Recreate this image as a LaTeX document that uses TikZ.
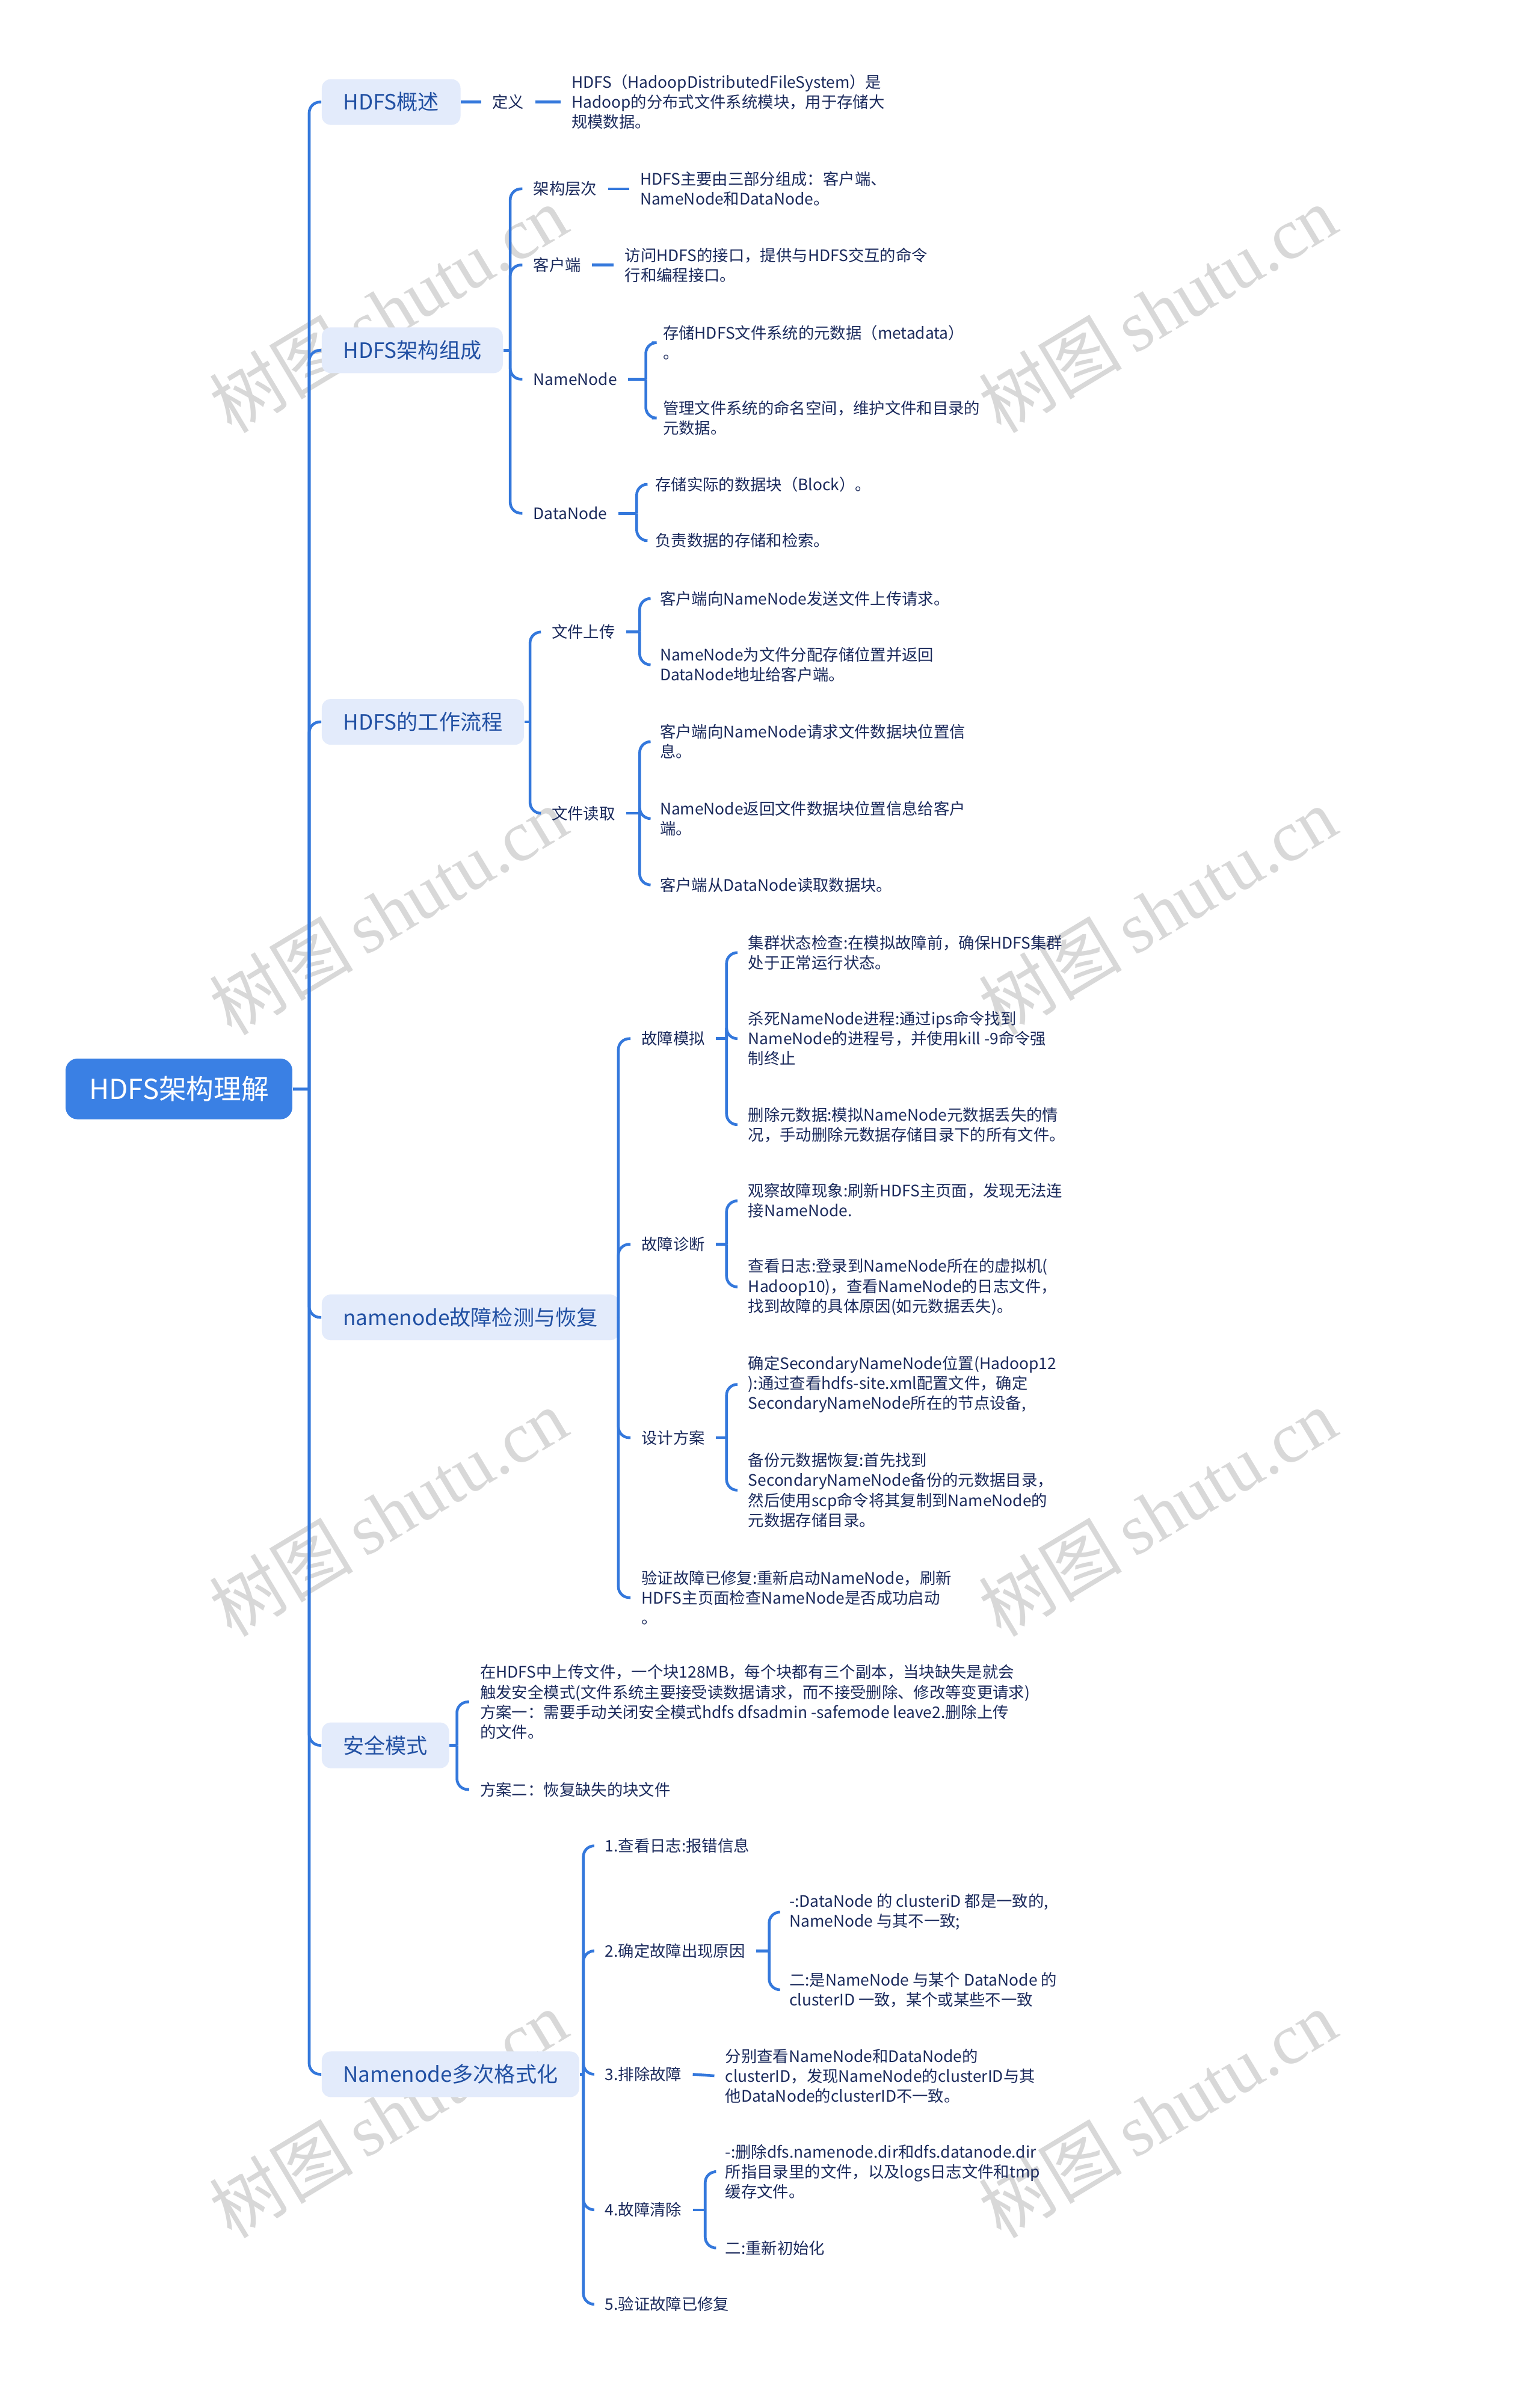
\documentclass[tikz,border=0pt]{standalone}
\usepackage{fontspec}
\setmainfont{Noto Sans CJK SC}
\newfontfamily\wmfont{Liberation Serif}
\usepackage{tikz}
\usetikzlibrary{positioning,calc}
\definecolor{LinkBlue}{HTML}{3478DC}
\definecolor{RootBlue}{HTML}{3A80E4}
\definecolor{TopicFill}{HTML}{E3EBFB}
\definecolor{TopicText}{HTML}{2150A3}
\definecolor{Ink}{HTML}{1B2A5C}
\definecolor{Mark}{HTML}{D8D8D8}

\begin{document}
\begin{tikzpicture}[x=0.2532mm, y=-0.2532mm,
    root/.style={fill=RootBlue, rounded corners=2mm, text=white,
                 font=\fontsize{13}{15}\selectfont, minimum width=37.7mm, minimum height=10.1mm},
    topic/.style={anchor=west, fill=TopicFill, rounded corners=1.5mm, text=TopicText,
                  font=\fontsize{10}{12}\selectfont, inner xsep=3.55mm, minimum height=7.6mm},
    sub/.style={anchor=west, text=Ink, font=\fontsize{7.5}{9.4}\selectfont,
                inner xsep=1.77mm, inner ysep=0pt},
    leaf/.style={sub, align=left},
    link/.style={draw=LinkBlue, line width=1.3pt},
    elbow/.style={link, rounded corners=1.8mm},
    wmark/.style={text=Mark, rotate=31, font=\fontsize{34}{36}\selectfont},
  ]
    \fill[white] (0,0) rectangle (1011,1568);
    \useasboundingbox (0,0) rectangle (1011,1568);

    % watermark
    \node[wmark] (wm1) at (255,203)  {树图\,{\wmfont shutu.cn}};
    \node[wmark] (wm2) at (760,203)  {树图\,{\wmfont shutu.cn}};
    \node[wmark] (wm3) at (255,598)  {树图\,{\wmfont shutu.cn}};
    \node[wmark] (wm4) at (760,598)  {树图\,{\wmfont shutu.cn}};
    \node[wmark] (wm5) at (255,993)  {树图\,{\wmfont shutu.cn}};
    \node[wmark] (wm6) at (760,993)  {树图\,{\wmfont shutu.cn}};
    \node[wmark] (wm7) at (255,1388) {树图\,{\wmfont shutu.cn}};
    \node[wmark] (wm8) at (760,1388) {树图\,{\wmfont shutu.cn}};

    \node[root] (root) at (117.5,715) {HDFS架构理解};

    \node[topic] (t1) at (211,67)   {HDFS概述};
    \node[topic] (t2) at (211,230)  {HDFS架构组成};
    \node[topic] (t3) at (211,474)  {HDFS的工作流程};
    \node[topic] (t4) at (211,865)  {namenode故障检测与恢复};
    \node[topic] (t5) at (211,1146) {安全模式};
    \node[topic] (t6) at (211,1362) {Namenode多次格式化};

    % HDFS概述
    \node[sub] (def) at (316,67) {定义};
    \node[leaf] (defx) at (368,67) {HDFS（HadoopDistributedFileSystem）是\\Hadoop的分布式文件系统模块，用于存储大\\规模数据。};

    % HDFS架构组成
    \node[sub] (arch) at (343,124) {架构层次};
    \node[leaf] (archx) at (413,124) {HDFS主要由三部分组成：客户端、\\NameNode和DataNode。};
    \node[sub] (cli) at (343,174) {客户端};
    \node[leaf] (clix) at (403,174) {访问HDFS的接口，提供与HDFS交互的命令\\行和编程接口。};
    \node[sub] (nn) at (343,249) {NameNode};
    \node[leaf] (nn1) at (428,225) {存储HDFS文件系统的元数据（metadata）\\。};
    \node[leaf] (nn2) at (428,274.5) {管理文件系统的命名空间，维护文件和目录的\\元数据。};
    \node[sub] (dn) at (343,337) {DataNode};
    \node[leaf] (dn1) at (423,318) {存储实际的数据块（Block）。};
    \node[leaf] (dn2) at (423,355) {负责数据的存储和检索。};

    % HDFS的工作流程
    \node[sub] (up) at (355,415) {文件上传};
    \node[leaf] (up1) at (426,393) {客户端向NameNode发送文件上传请求。};
    \node[leaf] (up2) at (426,436.5) {NameNode为文件分配存储位置并返回\\DataNode地址给客户端。};
    \node[sub] (rd) at (355,534) {文件读取};
    \node[leaf] (rd1) at (426,487) {客户端向NameNode请求文件数据块位置信\\息。};
    \node[leaf] (rd2) at (426,537.5) {NameNode返回文件数据块位置信息给客户\\端。};
    \node[leaf] (rd3) at (426,581) {客户端从DataNode读取数据块。};

    % namenode故障检测与恢复
    \node[sub] (sim) at (414,682) {故障模拟};
    \node[leaf] (sim1) at (484,625.5) {集群状态检查:在模拟故障前，确保HDFS集群\\处于正常运行状态。};
    \node[leaf] (sim2) at (484,682) {杀死NameNode进程:通过ips命令找到\\NameNode的进程号，并使用kill -9命令强\\制终止};
    \node[leaf] (sim3) at (484,738.5) {删除元数据:模拟NameNode元数据丢失的情\\况，手动删除元数据存储目录下的所有文件。};
    \node[sub] (diag) at (414,817) {故障诊断};
    \node[leaf] (diag1) at (484,788.5) {观察故障现象:刷新HDFS主页面，发现无法连\\接NameNode.};
    \node[leaf] (diag2) at (484,845) {查看日志:登录到NameNode所在的虚拟机(\\Hadoop10)，查看NameNode的日志文件，\\找到故障的具体原因(如元数据丢失)。};
    \node[sub] (plan) at (414,944) {设计方案};
    \node[leaf] (plan1) at (484,909) {确定SecondaryNameNode位置(Hadoop12\\):通过查看hdfs-site.xml配置文件，确定\\SecondaryNameNode所在的节点设备,};
    \node[leaf] (plan2) at (484,978.5) {备份元数据恢复:首先找到\\SecondaryNameNode备份的元数据目录，\\然后使用scp命令将其复制到NameNode的\\元数据存储目录。};
    \node[leaf] (verify) at (414,1049) {验证故障已修复:重新启动NameNode，刷新\\HDFS主页面检查NameNode是否成功启动\\。};

    % 安全模式
    \node[leaf] (safe1) at (308,1117.5) {在HDFS中上传文件，一个块128MB，每个块都有三个副本，当块缺失是就会\\触发安全模式(文件系统主要接受读数据请求，而不接受删除、修改等变更请求)\\方案一：需要手动关闭安全模式hdfs dfsadmin -safemode leave2.删除上传\\的文件。};
    \node[leaf] (safe2) at (308,1175) {方案二：恢复缺失的块文件};

    % Namenode多次格式化
    \node[sub] (fmt1) at (390,1212) {1.查看日志:报错信息};
    \node[sub] (fmt2) at (390,1281) {2.确定故障出现原因};
    \node[leaf] (fmt21) at (511,1255.5) {-:DataNode 的 clusteriD 都是一致的,\\NameNode 与其不一致;};
    \node[leaf] (fmt22) at (511,1306.5) {二:是NameNode 与某个 DataNode 的\\clusterID 一致，某个或某些不一致};
    \node[sub] (fmt3) at (390,1362) {3.排除故障};
    \node[leaf] (fmt3x) at (469,1363) {分别查看NameNode和DataNode的\\clusterID，发现NameNode的clusterID与其\\他DataNode的clusterID不一致。};
    \node[sub] (fmt4) at (390,1451) {4.故障清除};
    \node[leaf] (fmt41) at (469,1426) {-:删除dfs.namenode.dir和dfs.datanode.dir\\所指目录里的文件，以及logs日志文件和tmp\\缓存文件。};
    \node[leaf] (fmt42) at (469,1476) {二:重新初始化};
    \node[sub] (fmt5) at (390,1513) {5.验证故障已修复};

    % trunk
    \draw[link] (root.east) -- ($(root.east -| t1.west)+(-8,0)$) coordinate (j0);
    \draw[elbow] (j0) |- (t1.west);
    \draw[elbow] (j0) |- (t2.west);
    \draw[elbow] (j0) |- (t3.west);
    \draw[elbow] (j0) |- (t4.west);
    \draw[elbow] (j0) |- (t5.west);
    \draw[elbow] (j0) |- (t6.west);

    \draw[link] (t1.east) -- (def.west);
    \draw[link] (def.east) -- (defx.west);

    \draw[link] (t2.east) -- ($(t2.east -| arch.west)+(-8,0)$) coordinate (j2);
    \draw[elbow] (j2) |- (arch.west);
    \draw[elbow] (j2) |- (cli.west);
    \draw[elbow] (j2) |- (nn.west);
    \draw[elbow] (j2) |- (dn.west);
    \draw[link] (arch.east) -- (archx.west);
    \draw[link] (cli.east) -- (clix.west);
    \draw[link] (nn.east) -- ($(nn.east -| nn1.west)+(-4,0)$) coordinate (jnn);
    \draw[elbow] (jnn) |- (nn1.west);
    \draw[elbow] (jnn) |- (nn2.west);
    \draw[link] (dn.east) -- ($(dn.east -| dn1.west)+(-5,0)$) coordinate (jdn);
    \draw[elbow] (jdn) |- (dn1.west);
    \draw[elbow] (jdn) |- (dn2.west);

    \draw[link] (t3.east) -- ($(t3.east -| up.west)+(-7,0)$) coordinate (j3);
    \draw[elbow] (j3) |- (up.west);
    \draw[elbow] (j3) |- (rd.west);
    \draw[link] (up.east) -- ($(up.east -| up1.west)+(-6,0)$) coordinate (jup);
    \draw[elbow] (jup) |- (up1.west);
    \draw[elbow] (jup) |- (up2.west);
    \draw[link] (rd.east) -- ($(rd.east -| rd1.west)+(-6,0)$) coordinate (jrd);
    \draw[elbow] (jrd) |- (rd1.west);
    \draw[elbow] (jrd) |- (rd2.west);
    \draw[elbow] (jrd) |- (rd3.west);

    \draw[link] (t4.east) -- ($(t4.east -| sim.west)+(-8,0)$) coordinate (j4);
    \draw[elbow] (j4) |- (sim.west);
    \draw[elbow] (j4) |- (diag.west);
    \draw[elbow] (j4) |- (plan.west);
    \draw[elbow] (j4) |- (verify.west);
    \draw[link] (sim.east) -- ($(sim.east -| sim1.west)+(-7,0)$) coordinate (jsim);
    \draw[elbow] (jsim) |- (sim1.west);
    \draw[elbow] (jsim) |- (sim2.west);
    \draw[elbow] (jsim) |- (sim3.west);
    \draw[link] (diag.east) -- ($(diag.east -| diag1.west)+(-7,0)$) coordinate (jdiag);
    \draw[elbow] (jdiag) |- (diag1.west);
    \draw[elbow] (jdiag) |- (diag2.west);
    \draw[link] (plan.east) -- ($(plan.east -| plan1.west)+(-7,0)$) coordinate (jplan);
    \draw[elbow] (jplan) |- (plan1.west);
    \draw[elbow] (jplan) |- (plan2.west);

    \draw[link] (t5.east) -- ($(t5.east -| safe1.west)+(-8,0)$) coordinate (j5);
    \draw[elbow] (j5) |- (safe1.west);
    \draw[elbow] (j5) |- (safe2.west);

    \draw[link] (t6.east) -- ($(t6.east -| fmt1.west)+(-7,0)$) coordinate (j6);
    \draw[elbow] (j6) |- (fmt1.west);
    \draw[elbow] (j6) |- (fmt2.west);
    \draw[elbow] (j6) |- (fmt3.west);
    \draw[elbow] (j6) |- (fmt4.west);
    \draw[elbow] (j6) |- (fmt5.west);
    \draw[link] (fmt2.east) -- ($(fmt2.east -| fmt21.west)+(-6,0)$) coordinate (jf2);
    \draw[elbow] (jf2) |- (fmt21.west);
    \draw[elbow] (jf2) |- (fmt22.west);
    \draw[link] (fmt3.east) -- (fmt3x.west);
    \draw[link] (fmt4.east) -- ($(fmt4.east -| fmt41.west)+(-6,0)$) coordinate (jf4);
    \draw[elbow] (jf4) |- (fmt41.west);
    \draw[elbow] (jf4) |- (fmt42.west);
\end{tikzpicture}
\end{document}
